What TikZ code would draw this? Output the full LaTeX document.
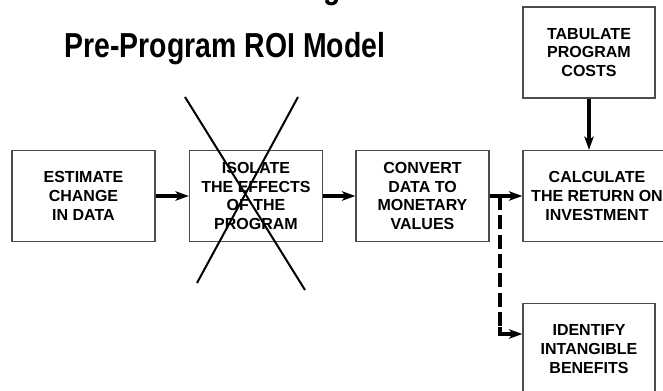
\documentclass[tikz,border=0pt]{standalone}
\usepackage{fontspec}
\setmainfont{Liberation Sans}
\usetikzlibrary{arrows.meta}
\begin{document}
\begin{tikzpicture}[x=0.75pt,y=-0.75pt,
  stepbox/.style={draw=black!70,line width=0.9pt,align=center,inner sep=0pt,
    font=\bfseries\fontsize{12}{14}\selectfont,minimum height=91*0.75pt},
  flow/.style={line width=2.6pt,-{Stealth[length=10pt,width=7pt,inset=2.5pt]}},
  titletext/.style={font=\bfseries\fontsize{26}{30}\selectfont,inner sep=0pt,xscale=0.82,transform shape},
  crossline/.style={line width=1.5pt}]
\useasboundingbox (0,0) rectangle (663,391);
\clip (0,0) rectangle (663,391);
\node[titletext,anchor=base] (t0) at (286,-1.5) {Forecasting the};
\node[titletext,anchor=base] (t1) at (225,58) {Pre-Program ROI Model};
\node[stepbox,minimum width=143*0.75pt] (est) at (83.5,196) {ESTIMATE\\CHANGE\\IN DATA};
\node[stepbox,minimum width=133*0.75pt] (iso) at (256,196) {ISOLATE\\THE EFFECTS\\OF THE\\PROGRAM};
\node[stepbox,minimum width=133*0.75pt] (conv) at (422.5,196) {CONVERT\\DATA TO\\MONETARY\\VALUES};
\node[stepbox,minimum width=148*0.75pt] (calc) at (597,196) {CALCULATE\\THE RETURN ON\\INVESTMENT};
\node[stepbox,minimum width=132*0.75pt] (tab) at (589,52.5) {TABULATE\\PROGRAM\\COSTS};
\node[stepbox,minimum width=132*0.75pt] (ident) at (589,349) {IDENTIFY\\INTANGIBLE\\BENEFITS};
\draw[crossline] (185,97) -- (305,290);
\draw[crossline] (298,97) -- (197,283);
\draw[flow] (est) -- (iso);
\draw[flow] (iso) -- (conv);
\draw[flow] (conv) -- (calc);
\draw[flow] (tab.south) -- (tab.south |- calc.north);
\coordinate (split) at (500,196);
\coordinate (turn) at (500,334);
\draw[line width=2.6pt,dash pattern=on 10.5pt off 4pt] (split) -- ([yshift=4pt]turn);
\draw[flow] ([yshift=5pt]turn) -- (turn) -- (ident.west |- turn);
\end{tikzpicture}
\end{document}
